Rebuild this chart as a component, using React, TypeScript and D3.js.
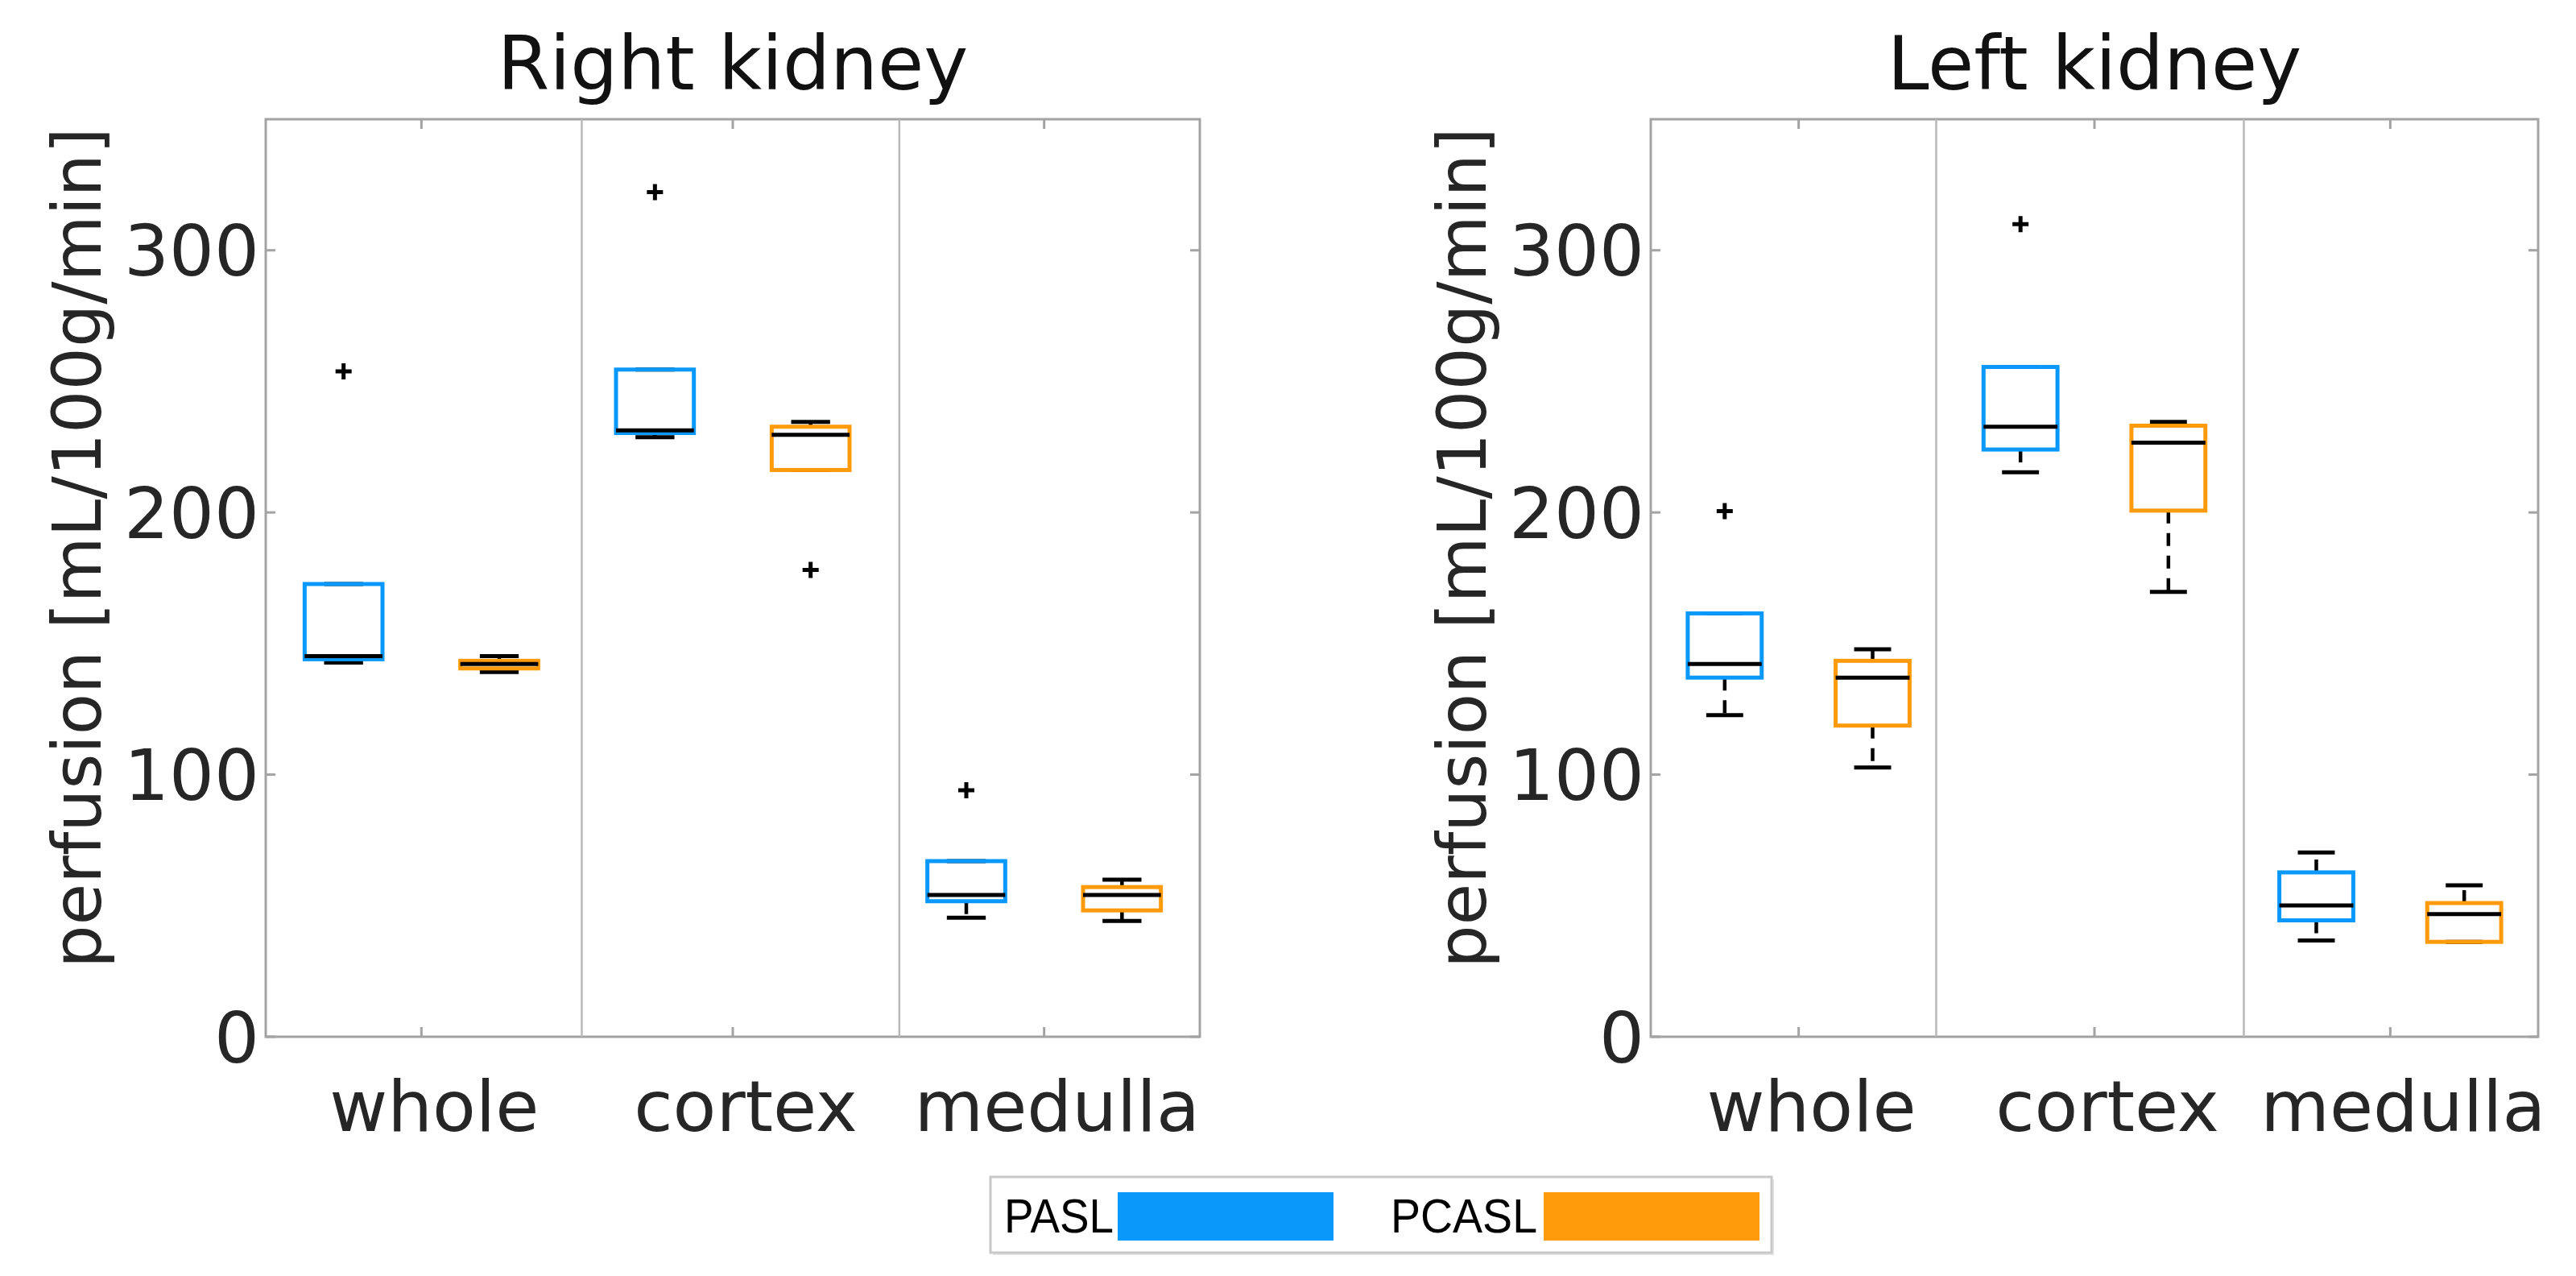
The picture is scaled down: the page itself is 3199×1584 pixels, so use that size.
import * as React from "react";
import * as d3 from "d3";

// region names and methods
const regions = ["whole", "cortex", "medulla"];
const methods = ["PASL", "PCASL"];
const methodColors = ["#0a99fb", "#ff9a0a"];
const yTicks = [0, 100, 200, 300];

// box stats per region: [lower whisker, q1, median, q3, upper whisker]
const rightPasl = [
  [142.7, 144.0, 145.2, 172.7, 172.7],
  [228.7, 230.3, 231.3, 254.5, 254.5],
  [45.4, 51.7, 54.1, 67.0, 67.0],
];
const rightPcasl = [
  [139.1, 140.5, 142.2, 143.4, 145.2],
  [216.2, 216.2, 229.6, 232.7, 234.5],
  [44.2, 48.2, 54.1, 57.1, 59.9],
];
const rightPaslOutliers = [[253.8], [322.2], [94.0]];
const rightPcaslOutliers = [[], [178.1], []];
const rightDividers = [2.53, 4.57];

const leftPasl = [
  [122.7, 137.0, 142.2, 161.5, 161.5],
  [215.3, 224.0, 232.7, 255.5, 255.5],
  [36.7, 44.4, 50.1, 62.7, 70.3],
];
const leftPcasl = [
  [102.7, 118.7, 137.0, 143.4, 147.8],
  [169.7, 200.7, 226.6, 233.1, 234.5],
  [36.2, 36.2, 46.8, 51.0, 57.8],
];
const leftPaslOutliers = [[200.5], [310.0], []];
const leftPcaslOutliers = [[], [], []];
const leftDividers = [2.43, 4.51];

const W = 3199;
const H = 1584;
const TOP = 148;
const BOTTOM = 1287;
const FONT = "DejaVu Sans, Verdana, sans-serif";
const AXIS = "#a3a3a3";
const LW = 5;

interface PanelProps {
  title: string;
  x0: number;
  x1: number;
  stats: number[][][];
  outliers: number[][][];
  dividers: number[];
}

function Panel({ title, x0, x1, stats, outliers, dividers }: PanelProps) {
  const x = d3.scaleLinear().domain([0.5, 6.5]).range([x0, x1]);
  const y = d3.scaleLinear().domain([0, 350]).range([BOTTOM, TOP]);
  const unit = x(1) - x(0);
  const boxW = unit * 0.5;
  const capW = unit * 0.25;
  const groupTicks = regions.map((_, r) => r * 2 + 1.5);

  return (
    <g>
      {/* Title */}
      <text
        x={(x0 + x1) / 2}
        y={111}
        textAnchor="middle"
        fontFamily={FONT}
        fontSize={93}
        fill="#111"
      >
        {title}
      </text>

      {/* Axes frame */}
      <rect x={x0} y={TOP} width={x1 - x0} height={BOTTOM - TOP} fill="none" stroke={AXIS} strokeWidth={3} />

      {/* Group separators */}
      {dividers.map((d) => (
        <line key={`div-${d}`} x1={x(d)} x2={x(d)} y1={TOP} y2={BOTTOM} stroke="#b8b8b8" strokeWidth={2.5} />
      ))}

      {/* Y ticks */}
      {yTicks.map((t) => (
        <g key={`yt-${t}`}>
          <line x1={x0} x2={x0 + 12} y1={y(t)} y2={y(t)} stroke={AXIS} strokeWidth={3} />
          <line x1={x1} x2={x1 - 12} y1={y(t)} y2={y(t)} stroke={AXIS} strokeWidth={3} />
          <text
            x={x0 - 8}
            y={y(t)}
            dy="0.36em"
            textAnchor="end"
            fontFamily={FONT}
            fontSize={88}
            fill="#262626"
          >
            {t}
          </text>
        </g>
      ))}

      {/* X ticks and group labels */}
      {groupTicks.map((t, i) => (
        <g key={`xt-${t}`}>
          <line x1={x(t)} x2={x(t)} y1={BOTTOM} y2={BOTTOM - 12} stroke={AXIS} strokeWidth={3} />
          <line x1={x(t)} x2={x(t)} y1={TOP} y2={TOP + 12} stroke={AXIS} strokeWidth={3} />
          <text
            x={x(t) + 16}
            y={1404}
            textAnchor="middle"
            fontFamily={FONT}
            fontSize={88}
            fill="#262626"
          >
            {regions[i]}
          </text>
        </g>
      ))}

      {/* Y label */}
      <text
        transform={`translate(${x0 - 205},680) rotate(-90)`}
        textAnchor="middle"
        fontFamily={FONT}
        fontSize={84}
        fill="#262626"
      >
        perfusion [mL/100g/min]
      </text>

      {/* Boxes */}
      {methods.map((m, mi) =>
        stats[mi].map((s, r) => {
          const pos = r * 2 + mi + 1;
          const cx = x(pos);
          const [lo, q1, med, q3, hi] = s;
          return (
            <g key={`box-${m}-${r}`}>
              {hi > q3 && (
                <line x1={cx} x2={cx} y1={y(q3)} y2={y(hi)} stroke="#000" strokeWidth={4.5} strokeDasharray="16 12" />
              )}
              {lo < q1 && (
                <line x1={cx} x2={cx} y1={y(q1)} y2={y(lo)} stroke="#000" strokeWidth={4.5} strokeDasharray="16 12" />
              )}
              <line x1={cx - capW / 2} x2={cx + capW / 2} y1={y(hi)} y2={y(hi)} stroke="#000" strokeWidth={LW} />
              <line x1={cx - capW / 2} x2={cx + capW / 2} y1={y(lo)} y2={y(lo)} stroke="#000" strokeWidth={LW} />
              <rect
                x={cx - boxW / 2}
                y={y(q3)}
                width={boxW}
                height={y(q1) - y(q3)}
                fill="none"
                stroke={methodColors[mi]}
                strokeWidth={LW}
              />
              <line x1={cx - boxW / 2} x2={cx + boxW / 2} y1={y(med)} y2={y(med)} stroke="#000" strokeWidth={LW} />
              {outliers[mi][r].map((o, k) => (
                <path
                  key={`out-${k}`}
                  d={`M${cx - 10},${y(o)}H${cx + 10}M${cx},${y(o) - 10}V${y(o) + 10}`}
                  stroke="#000"
                  strokeWidth={LW}
                />
              ))}
            </g>
          );
        }),
      )}
    </g>
  );
}

export default function App() {
  return (
    <svg
      width={W}
      height={H}
      style={{ position: "absolute", left: 0, top: 0, background: "#fff" }}
    >
      <rect width={W} height={H} fill="#fff" />
      <Panel
        title="Right kidney"
        x0={330}
        x1={1490}
        stats={[rightPasl, rightPcasl]}
        outliers={[rightPaslOutliers, rightPcaslOutliers]}
        dividers={rightDividers}
      />
      <Panel
        title="Left kidney"
        x0={2050}
        x1={3152}
        stats={[leftPasl, leftPcasl]}
        outliers={[leftPaslOutliers, leftPcaslOutliers]}
        dividers={leftDividers}
      />

      {/* Legend */}
      <g>
        <rect x={1233} y={1464} width={970} height={94} fill="#e6e6e6" />
        <rect x={1230} y={1461} width={970} height={94} fill="#fff" stroke="#c8c8c8" strokeWidth={3} />
        {methods.map((m, i) => {
          const tx = i === 0 ? 1247 : 1727;
          const sx = i === 0 ? 1388 : 1917;
          return (
            <g key={`leg-${m}`}>
              <text
                x={tx}
                y={1530}
                fontFamily="Liberation Sans, Arial, sans-serif"
                fontSize={60}
                textLength={i === 0 ? 136 : 182}
                lengthAdjust="spacingAndGlyphs"
                fill="#000"
              >
                {m}
              </text>
              <rect x={sx} y={1480} width={268} height={60} fill={methodColors[i]} />
            </g>
          );
        })}
      </g>
    </svg>
  );
}
